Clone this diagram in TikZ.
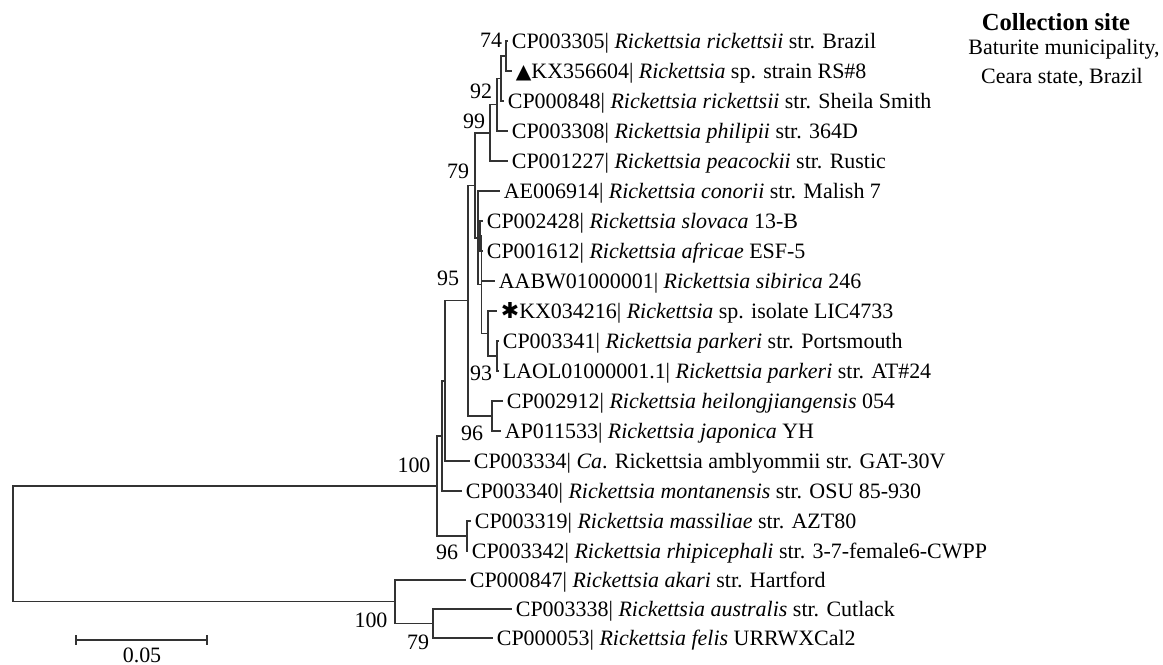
\documentclass[tikz,border=0pt]{standalone}
\usepackage{fontspec}
\setmainfont{Liberation Serif}
\newfontfamily\markfont{DejaVu Sans}

\begin{document}
\begin{tikzpicture}[
    x=0.02cm, y=-0.02cm, % one unit = one pixel of the figure, y downwards
    branch/.style={draw=black!80, line width=0.8pt}, % tree edges
    taxon/.style={anchor=west, inner xsep=2pt, inner ysep=0pt, text height=8.2pt, text depth=0pt, font=\fontsize{12.5}{15}\selectfont}, % leaf labels
    boot/.style={inner sep=0pt, text height=8.2pt, text depth=0pt, font=\fontsize{12.5}{15}\selectfont} % bootstrap values
]
\useasboundingbox (0,0) rectangle (1163,665);

% Leaves
\node[taxon] (cp3305) at (508,41) {CP003305| \textit{Rickettsia rickettsii} str. Brazil};
\node[taxon] (kx3566) at (512,71) {{\markfont\fontsize{11.5}{14}\selectfont ▲}KX356604| \textit{Rickettsia} sp. strain RS\#8};
\node[taxon] (cp0848) at (504,101) {CP000848| \textit{Rickettsia rickettsii} str. Sheila Smith};
\node[taxon] (cp3308) at (508,131) {CP003308| \textit{Rickettsia philipii} str. 364D};
\node[taxon] (cp1227) at (508,161) {CP001227| \textit{Rickettsia peacockii} str. Rustic};
\node[taxon] (ae6914) at (500,191) {AE006914| \textit{Rickettsia conorii} str. Malish 7};
\node[taxon] (cp2428) at (483,221) {CP002428| \textit{Rickettsia slovaca} 13-B};
\node[taxon] (cp1612) at (483,251) {CP001612| \textit{Rickettsia africae} ESF-5};
\node[taxon] (aabw) at (495,281) {AABW01000001| \textit{Rickettsia sibirica} 246};
\node[taxon] (kx0342) at (497,311) {{\markfont ✱}KX034216| \textit{Rickettsia} sp. isolate LIC4733};
\node[taxon] (cp3341) at (499,341) {CP003341| \textit{Rickettsia parkeri} str. Portsmouth};
\node[taxon] (laol) at (499,371) {LAOL01000001.1| \textit{Rickettsia parkeri} str. AT\#24};
\node[taxon] (cp2912) at (503,401) {CP002912| \textit{Rickettsia heilongjiangensis} 054};
\node[taxon] (ap1533) at (501,431) {AP011533| \textit{Rickettsia japonica} YH};
\node[taxon] (cp3334) at (470,461) {CP003334| \textit{Ca}. Rickettsia amblyommii str. GAT-30V};
\node[taxon] (cp3340) at (462,491) {CP003340| \textit{Rickettsia montanensis} str. OSU 85-930};
\node[taxon] (cp3319) at (471,521) {CP003319| \textit{Rickettsia massiliae} str. AZT80};
\node[taxon] (cp3342) at (468,551) {CP003342| \textit{Rickettsia rhipicephali} str. 3-7-female6-CWPP};
\node[taxon] (cp0847) at (466,580) {CP000847| \textit{Rickettsia akari} str. Hartford};
\node[taxon] (cp3338) at (512,609) {CP003338| \textit{Rickettsia australis} str. Cutlack};
\node[taxon] (cp0053) at (493,638) {CP000053| \textit{Rickettsia felis} URRWXCal2};

% Internal nodes
\coordinate (c1) at (506,56);
\coordinate (c2) at (501,78.5);
\coordinate (c3) at (497,104.75);
\coordinate (c4) at (490,132.9);
\coordinate (c5) at (480,236);
\coordinate (c6) at (497,356);
\coordinate (c7) at (488,333.5);
\coordinate (c8) at (481.5,284.75);
\coordinate (c9) at (478,237.9);
\coordinate (c10) at (475,185.4);
\coordinate (c11) at (492,416);
\coordinate (c12) at (468,300.7);
\coordinate (c13) at (445,380.85);
\coordinate (c14) at (442,435.9);
\coordinate (c15) at (467,536);
\coordinate (c16) at (437,485.95);
\coordinate (c17) at (433,623.5);
\coordinate (c18) at (395,601.75);
\coordinate (root) at (13,543.85);

% Branches
\draw[branch] (c1) |- (cp3305.west) (c1) |- (kx3566.west);
\draw[branch] (c2) |- (c1) (c2) |- (cp0848.west);
\draw[branch] (c3) |- (c2) (c3) |- (cp3308.west);
\draw[branch] (c4) |- (c3) (c4) |- (cp1227.west);
\draw[branch] (c5) |- (cp2428.west) (c5) |- (cp1612.west);
\draw[branch] (c6) |- (cp3341.west) (c6) |- (laol.west);
\draw[branch] (c7) |- (kx0342.west) (c7) |- (c6);
\draw[branch] (c8) |- (c5) (c8) |- (aabw.west) (c8) |- (c7);
\draw[branch] (c9) |- (ae6914.west) (c9) |- (c8);
\draw[branch] (c10) |- (c4) (c10) |- (c9);
\draw[branch] (c11) |- (cp2912.west) (c11) |- (ap1533.west);
\draw[branch] (c12) |- (c10) (c12) |- (c11);
\draw[branch] (c13) |- (c12) (c13) |- (cp3334.west);
\draw[branch] (c14) |- (c13) (c14) |- (cp3340.west);
\draw[branch] (c15) |- (cp3319.west) (c15) |- (cp3342.west);
\draw[branch] (c16) |- (c14) (c16) |- (c15);
\draw[branch] (c17) |- (cp3338.west) (c17) |- (cp0053.west);
\draw[branch] (c18) |- (cp0847.west) (c18) |- (c17);
\draw[branch] (root) |- (c16) (root) |- (c18);

% Bootstrap values
\node[boot] (b74) at (491,40) {74};
\node[boot] (b92) at (481,91) {92};
\node[boot] (b99) at (474,121) {99};
\node[boot] (b79a) at (458,171) {79};
\node[boot] (b95) at (448,278) {95};
\node[boot] (b93) at (481,373) {93};
\node[boot] (b96a) at (472,433) {96};
\node[boot] (b100a) at (414,465) {100};
\node[boot] (b96b) at (447,552) {96};
\node[boot] (b100b) at (371,620) {100};
\node[boot] (b79b) at (418,642) {79};

% Scale bar
\coordinate (s0) at (76,640);
\coordinate (s1) at (207,640);
\draw[branch] (s0) -- (s1);
\draw[branch] (s0) ++(0,-5) -- ++(0,10);
\draw[branch] (s1) ++(0,-5) -- ++(0,10);
\node[boot] (scale) at (142,655) {0.05};

% Collection site
\node[font=\fontsize{14}{16}\selectfont\bfseries, inner sep=0pt] (site) at (1056,22) {Collection site};
\node[boot] (site1) at (1064,47) {Baturite municipality,};
\node[boot] (site2) at (1062,76) {Ceara state, Brazil};

\end{tikzpicture}
\end{document}
